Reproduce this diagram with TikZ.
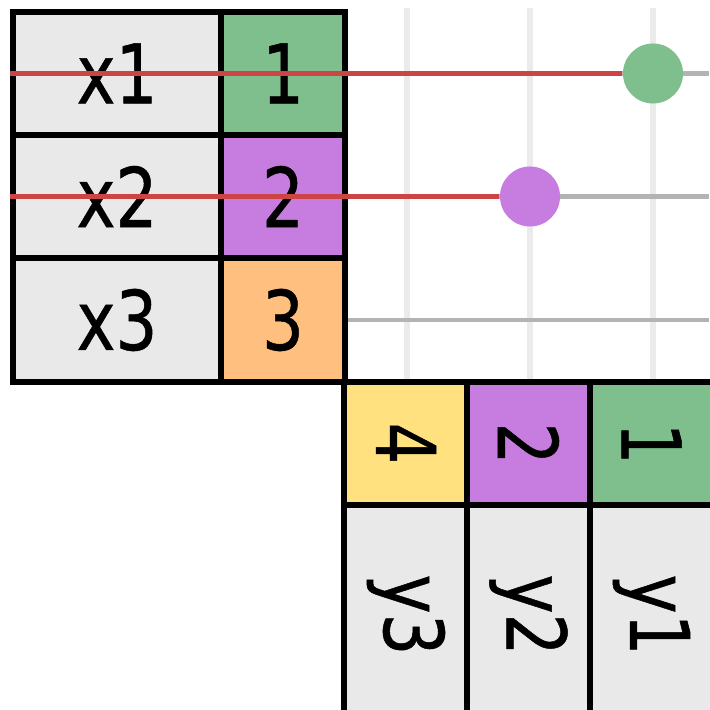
\documentclass[tikz,border=0pt]{standalone}
\usepackage{fontspec}
\setmainfont{DejaVu Sans}[FakeStretch=0.8, FakeBold=0.6]
\usepackage{graphicx}
\definecolor{keygreen}{HTML}{7FBF8E}
\definecolor{keypurple}{HTML}{C77DE0}
\definecolor{keyorange}{HTML}{FFBF7F}
\definecolor{keyyellow}{HTML}{FFE17F}
\definecolor{cellgray}{HTML}{E9E9E9}
\definecolor{gridlight}{HTML}{EBEBEB}
\definecolor{gridgray}{HTML}{B3B3B3}
\definecolor{joinred}{HTML}{CC4444}

\begin{document}
\begin{tikzpicture}[x=0.01cm, y=-0.01cm,
  cell/.style={draw=black, line width=1.7pt, inner sep=0pt, minimum height=1.23cm,
    font=\fontsize{23.4}{28}\selectfont},
  keycell/.style={cell, minimum width=1.23cm},
  valcell/.style={cell, minimum width=2.08cm, fill=cellgray},
  dot/.style={circle, inner sep=0pt, minimum size=0.6cm},
  matchline/.style={joinred, line width=1.5pt}]
  \useasboundingbox (0,0) rectangle (709,710);

  % Grid lines
  \foreach \gx in {407,530,653}
    \draw[gridlight, line width=1.8pt] (\gx,8) -- (\gx,382);
  \foreach \gy in {73.5,196.5,320}
    \draw[gridgray, line width=1.4pt] (345,\gy) -- (709,\gy);

  % Table x
  \node[valcell] (x1) at (117,73.5) {x1};
  \node[keycell, fill=keygreen, minimum width=1.24cm] (kx1) at (283,73.5) {1};
  \node[valcell] (x2) at (117,196.5) {x2};
  \node[keycell, fill=keypurple, minimum width=1.24cm] (kx2) at (283,196.5) {2};
  \node[valcell] (x3) at (117,320) {x3};
  \node[keycell, fill=keyorange, minimum width=1.24cm] (kx3) at (283,320) {3};

  % Table y
  \node[keycell, fill=keyyellow] (ky3) at (406,443.5) {\rotatebox{-90}{4}};
  \node[keycell, fill=keypurple] (ky2) at (528.5,443.5) {\rotatebox{-90}{2}};
  \node[keycell, fill=keygreen] (ky1) at (651.5,443.5) {\rotatebox{-90}{1}};
  \node[valcell, minimum width=1.23cm, minimum height=2.2cm] (y3) at (406,615) {\rotatebox{-90}{y3}};
  \node[valcell, minimum width=1.23cm, minimum height=2.2cm] (y2) at (528.5,615) {\rotatebox{-90}{y2}};
  \node[valcell, minimum width=1.23cm, minimum height=2.2cm] (y1) at (651.5,615) {\rotatebox{-90}{y1}};

  % Matches
  \node[dot, fill=keygreen] (m1) at (653,73.5) {};
  \node[dot, fill=keypurple] (m2) at (530,196.5) {};
  \draw[matchline] (x1.west) -- (m1.west);
  \draw[matchline] (x2.west) -- (m2.west);
\end{tikzpicture}
\end{document}
